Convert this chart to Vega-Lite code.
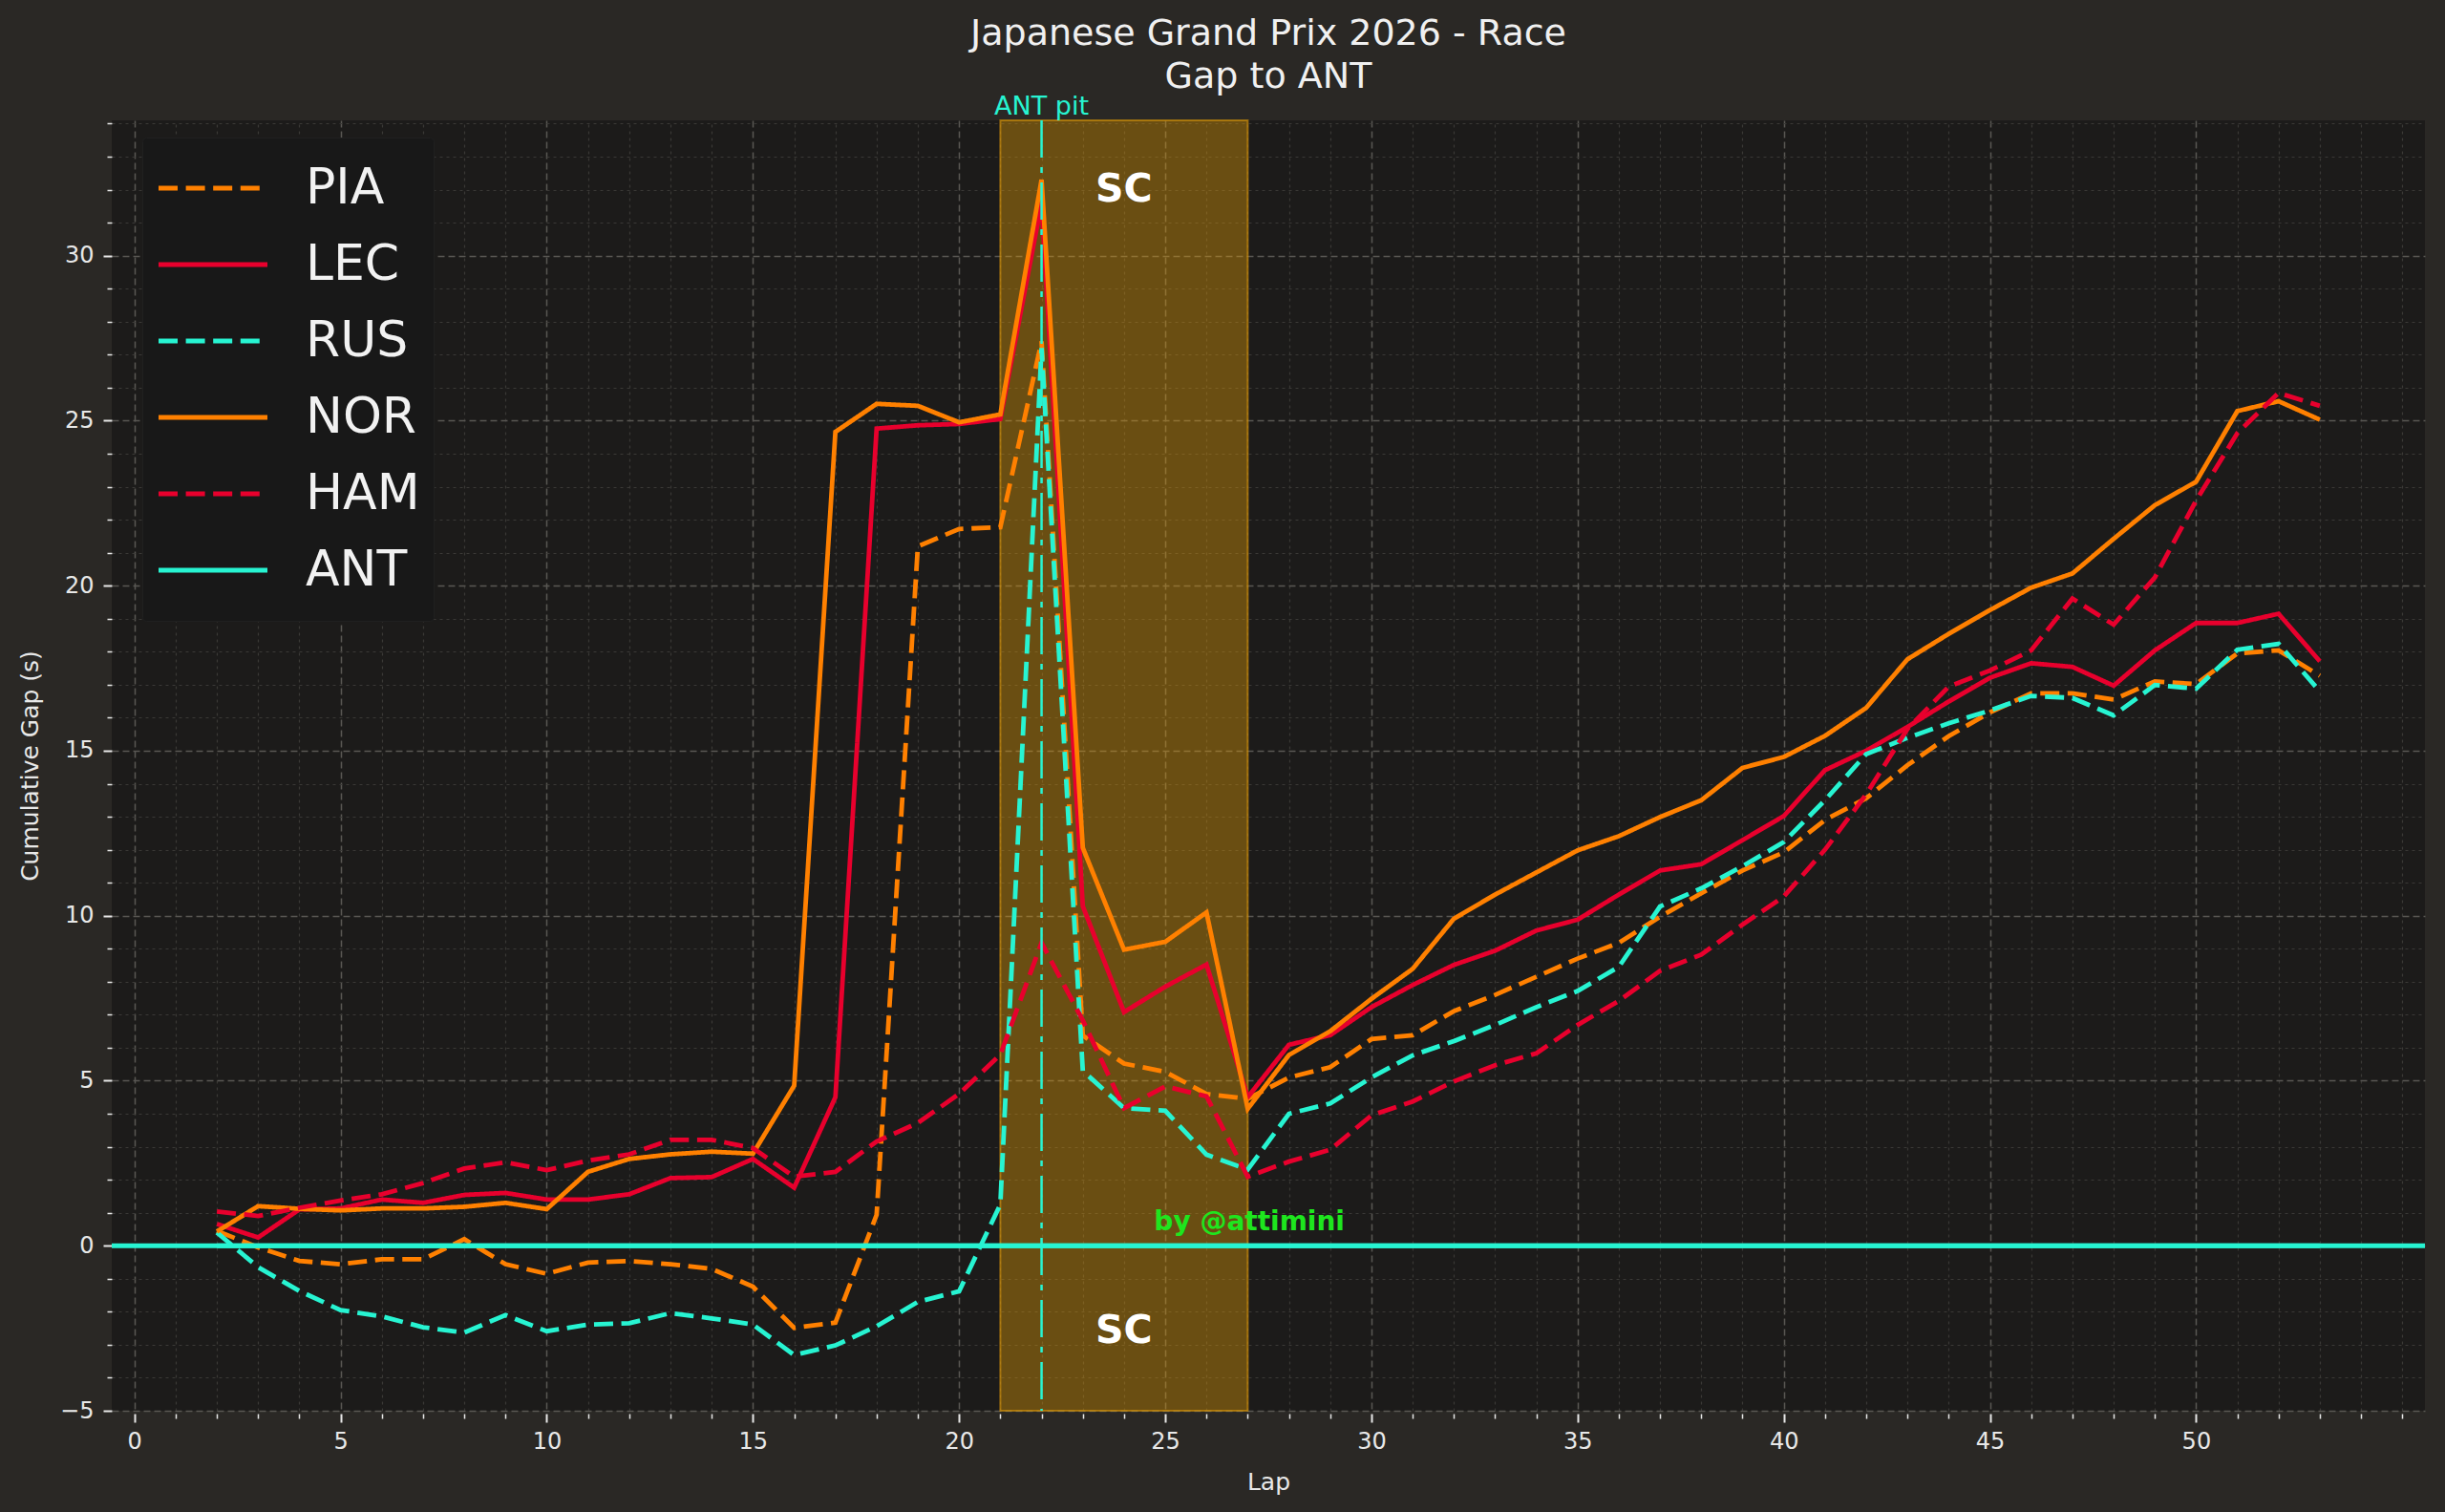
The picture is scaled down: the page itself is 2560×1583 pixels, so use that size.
{
  "$schema": "https://vega.github.io/schema/vega-lite/v6.json",
  "width": 2422,
  "height": 1351,
  "autosize": {"type": "none"},
  "padding": {"left": 117, "top": 126, "right": 21, "bottom": 106},
  "background": "#2a2825",
  "title": {
    "text": ["Japanese Grand Prix 2026 - Race", "Gap to ANT"],
    "fontSize": 38,
    "lineHeight": 45,
    "font": "DejaVu Sans",
    "fontWeight": "normal",
    "color": "#f0f0f0",
    "anchor": "middle",
    "offset": -2
  },
  "datasets": {
    "gaps": [
      {"lap": 2, "PIA": 0.45, "LEC": 0.66, "RUS": 0.40, "NOR": 0.43, "HAM": 1.04, "ANT": 0},
      {"lap": 3, "PIA": -0.05, "LEC": 0.25, "RUS": -0.65, "NOR": 1.20, "HAM": 0.90, "ANT": 0},
      {"lap": 4, "PIA": -0.46, "LEC": 1.10, "RUS": -1.37, "NOR": 1.12, "HAM": 1.15, "ANT": 0},
      {"lap": 5, "PIA": -0.56, "LEC": 1.13, "RUS": -1.95, "NOR": 1.07, "HAM": 1.37, "ANT": 0},
      {"lap": 6, "PIA": -0.41, "LEC": 1.40, "RUS": -2.14, "NOR": 1.13, "HAM": 1.56, "ANT": 0},
      {"lap": 7, "PIA": -0.41, "LEC": 1.30, "RUS": -2.47, "NOR": 1.13, "HAM": 1.90, "ANT": 0},
      {"lap": 8, "PIA": 0.20, "LEC": 1.54, "RUS": -2.63, "NOR": 1.18, "HAM": 2.34, "ANT": 0},
      {"lap": 9, "PIA": -0.56, "LEC": 1.60, "RUS": -2.10, "NOR": 1.30, "HAM": 2.53, "ANT": 0},
      {"lap": 10, "PIA": -0.85, "LEC": 1.40, "RUS": -2.59, "NOR": 1.11, "HAM": 2.29, "ANT": 0},
      {"lap": 11, "PIA": -0.51, "LEC": 1.40, "RUS": -2.39, "NOR": 2.24, "HAM": 2.58, "ANT": 0},
      {"lap": 12, "PIA": -0.46, "LEC": 1.56, "RUS": -2.35, "NOR": 2.63, "HAM": 2.77, "ANT": 0},
      {"lap": 13, "PIA": -0.56, "LEC": 2.05, "RUS": -2.04, "NOR": 2.77, "HAM": 3.21, "ANT": 0},
      {"lap": 14, "PIA": -0.70, "LEC": 2.08, "RUS": -2.20, "NOR": 2.85, "HAM": 3.21, "ANT": 0},
      {"lap": 15, "PIA": -1.24, "LEC": 2.63, "RUS": -2.39, "NOR": 2.79, "HAM": 2.96, "ANT": 0},
      {"lap": 16, "PIA": -2.49, "LEC": 1.76, "RUS": -3.31, "NOR": 4.85, "HAM": 2.09, "ANT": 0},
      {"lap": 17, "PIA": -2.33, "LEC": 4.50, "RUS": -3.02, "NOR": 24.66, "HAM": 2.24, "ANT": 0},
      {"lap": 18, "PIA": 0.94, "LEC": 24.76, "RUS": -2.44, "NOR": 25.51, "HAM": 3.16, "ANT": 0},
      {"lap": 19, "PIA": 21.19, "LEC": 24.86, "RUS": -1.70, "NOR": 25.45, "HAM": 3.72, "ANT": 0},
      {"lap": 20, "PIA": 21.72, "LEC": 24.90, "RUS": -1.38, "NOR": 24.95, "HAM": 4.60, "ANT": 0},
      {"lap": 21, "PIA": 21.77, "LEC": 25.05, "RUS": 1.25, "NOR": 25.19, "HAM": 5.79, "ANT": 0},
      {"lap": 22, "PIA": 27.40, "LEC": 31.60, "RUS": 27.20, "NOR": 32.30, "HAM": 9.18, "ANT": 0},
      {"lap": 23, "PIA": 6.37, "LEC": 10.29, "RUS": 5.30, "NOR": 12.06, "HAM": 6.83, "ANT": 0},
      {"lap": 24, "PIA": 5.52, "LEC": 7.08, "RUS": 4.17, "NOR": 8.97, "HAM": 4.17, "ANT": 0},
      {"lap": 25, "PIA": 5.27, "LEC": 7.85, "RUS": 4.09, "NOR": 9.21, "HAM": 4.83, "ANT": 0},
      {"lap": 26, "PIA": 4.60, "LEC": 8.52, "RUS": 2.76, "NOR": 10.10, "HAM": 4.53, "ANT": 0},
      {"lap": 27, "PIA": 4.45, "LEC": 4.50, "RUS": 2.31, "NOR": 4.15, "HAM": 2.09, "ANT": 0},
      {"lap": 28, "PIA": 5.10, "LEC": 6.09, "RUS": 4.00, "NOR": 5.78, "HAM": 2.55, "ANT": 0},
      {"lap": 29, "PIA": 5.41, "LEC": 6.38, "RUS": 4.31, "NOR": 6.50, "HAM": 2.91, "ANT": 0},
      {"lap": 30, "PIA": 6.26, "LEC": 7.23, "RUS": 5.10, "NOR": 7.48, "HAM": 3.95, "ANT": 0},
      {"lap": 31, "PIA": 6.38, "LEC": 7.90, "RUS": 5.77, "NOR": 8.39, "HAM": 4.37, "ANT": 0},
      {"lap": 32, "PIA": 7.11, "LEC": 8.51, "RUS": 6.20, "NOR": 9.91, "HAM": 4.98, "ANT": 0},
      {"lap": 33, "PIA": 7.60, "LEC": 8.94, "RUS": 6.69, "NOR": 10.64, "HAM": 5.47, "ANT": 0},
      {"lap": 34, "PIA": 8.15, "LEC": 9.55, "RUS": 7.23, "NOR": 11.31, "HAM": 5.83, "ANT": 0},
      {"lap": 35, "PIA": 8.70, "LEC": 9.88, "RUS": 7.72, "NOR": 11.98, "HAM": 6.69, "ANT": 0},
      {"lap": 36, "PIA": 9.18, "LEC": 10.64, "RUS": 8.45, "NOR": 12.41, "HAM": 7.42, "ANT": 0},
      {"lap": 37, "PIA": 9.97, "LEC": 11.37, "RUS": 10.28, "NOR": 12.99, "HAM": 8.33, "ANT": 0},
      {"lap": 38, "PIA": 10.68, "LEC": 11.56, "RUS": 10.83, "NOR": 13.50, "HAM": 8.82, "ANT": 0},
      {"lap": 39, "PIA": 11.37, "LEC": 12.29, "RUS": 11.50, "NOR": 14.48, "HAM": 9.73, "ANT": 0},
      {"lap": 40, "PIA": 11.92, "LEC": 13.02, "RUS": 12.23, "NOR": 14.81, "HAM": 10.58, "ANT": 0},
      {"lap": 41, "PIA": 12.90, "LEC": 14.41, "RUS": 13.50, "NOR": 15.45, "HAM": 12.00, "ANT": 0},
      {"lap": 42, "PIA": 13.56, "LEC": 15.00, "RUS": 14.90, "NOR": 16.30, "HAM": 13.68, "ANT": 0},
      {"lap": 43, "PIA": 14.56, "LEC": 15.72, "RUS": 15.39, "NOR": 17.77, "HAM": 15.66, "ANT": 0},
      {"lap": 44, "PIA": 15.44, "LEC": 16.49, "RUS": 15.83, "NOR": 18.54, "HAM": 16.94, "ANT": 0},
      {"lap": 45, "PIA": 16.16, "LEC": 17.21, "RUS": 16.22, "NOR": 19.26, "HAM": 17.43, "ANT": 0},
      {"lap": 46, "PIA": 16.74, "LEC": 17.65, "RUS": 16.66, "NOR": 19.94, "HAM": 18.04, "ANT": 0},
      {"lap": 47, "PIA": 16.74, "LEC": 17.54, "RUS": 16.60, "NOR": 20.37, "HAM": 19.61, "ANT": 0},
      {"lap": 48, "PIA": 16.55, "LEC": 16.97, "RUS": 16.07, "NOR": 21.42, "HAM": 18.82, "ANT": 0},
      {"lap": 49, "PIA": 17.10, "LEC": 18.04, "RUS": 16.99, "NOR": 22.44, "HAM": 20.25, "ANT": 0},
      {"lap": 50, "PIA": 17.02, "LEC": 18.87, "RUS": 16.88, "NOR": 23.15, "HAM": 22.58, "ANT": 0},
      {"lap": 51, "PIA": 17.95, "LEC": 18.87, "RUS": 18.06, "NOR": 25.29, "HAM": 24.62, "ANT": 0},
      {"lap": 52, "PIA": 18.04, "LEC": 19.15, "RUS": 18.24, "NOR": 25.59, "HAM": 25.84, "ANT": 0},
      {"lap": 53, "PIA": 17.27, "LEC": 17.71, "RUS": 16.80, "NOR": 25.03, "HAM": 25.45, "ANT": 0}
    ],
    "safety_car": [{"start": 21, "end": 27}],
    "sc_labels": [
      {"lap": 24, "gap": 32.0, "label": "SC"},
      {"lap": 24, "gap": -2.6, "label": "SC"}
    ],
    "pit": [{"lap": 22, "gap": 34.1, "label": "ANT pit"}],
    "credit": [{"lap": 27.04, "gap": 0.69, "label": "by @attimini"}],
    "reference": [{"driver": "ANT", "gap": 0}]
  },
  "layer": [
    {
      "data": {"name": "safety_car"},
      "mark": {
        "type": "rect",
        "fill": "#E09A08",
        "fillOpacity": 0.4,
        "stroke": "#E09A08",
        "strokeOpacity": 0.6,
        "strokeWidth": 2
      },
      "encoding": {
        "x": {
          "field": "start",
          "type": "quantitative",
          "scale": {"domain": [-0.55, 55.55], "nice": false, "zero": false},
          "axis": {
            "orient": "bottom",
            "offset": 3,
            "values": [1, 2, 3, 4, 6, 7, 8, 9, 11, 12, 13, 14, 16, 17, 18, 19, 21, 22, 23, 24, 26, 27, 28, 29, 31, 32, 33, 34, 36, 37, 38, 39, 41, 42, 43, 44, 46, 47, 48, 49, 51, 52, 53, 54, 55],
            "labels": false,
            "title": null,
            "tickSize": 5,
            "tickWidth": 1.5,
            "grid": true,
            "gridColor": "#3a3936",
            "gridDash": [3, 4],
            "gridWidth": 1.2
          }
        },
        "x2": {"field": "end"}
      }
    },
    {
      "data": {"name": "gaps"},
      "transform": [
        {"fold": ["PIA", "LEC", "RUS", "NOR", "HAM", "ANT"], "as": ["driver", "gap"]}
      ],
      "mark": {"type": "line", "strokeWidth": 4.8},
      "encoding": {
        "x": {
          "field": "lap",
          "type": "quantitative",
          "scale": {"domain": [-0.55, 55.55], "nice": false, "zero": false},
          "axis": {
            "orient": "bottom",
            "offset": 3,
            "values": [0, 5, 10, 15, 20, 25, 30, 35, 40, 45, 50],
            "format": "d",
            "title": "Lap",
            "tickSize": 9,
            "tickWidth": 2,
            "labelPadding": 8,
            "titlePadding": 18,
            "grid": true,
            "gridColor": "#595753",
            "gridDash": [7, 4],
            "gridWidth": 1.5
          }
        },
        "y": {
          "field": "gap",
          "type": "quantitative",
          "scale": {"domain": [-5, 34.1], "nice": false, "zero": false},
          "axis": {
            "orient": "left",
            "values": [-5, 0, 5, 10, 15, 20, 25, 30],
            "format": "d",
            "title": "Cumulative Gap (s)",
            "tickSize": 9,
            "tickWidth": 2,
            "labelPadding": 10,
            "titlePadding": 18,
            "grid": true,
            "gridColor": "#595753",
            "gridDash": [7, 4],
            "gridWidth": 1.5
          }
        },
        "color": {
          "field": "driver",
          "type": "nominal",
          "scale": {
            "domain": ["PIA", "LEC", "RUS", "NOR", "HAM", "ANT"],
            "range": ["#FF8000", "#E8002D", "#27F4D2", "#FF8000", "#E8002D", "#27F4D2"]
          },
          "legend": {
            "title": null,
            "orient": "none",
            "legendX": 32,
            "legendY": 18,
            "symbolType": "stroke",
            "symbolSize": 13000,
            "symbolStrokeWidth": 5,
            "clipHeight": 78,
            "labelFontSize": 52,
            "labelOffset": 37,
            "labelColor": "#f2f2f2",
            "labelFont": "DejaVu Sans",
            "padding": 14,
            "fillColor": "#181818",
            "strokeColor": "#202020",
            "cornerRadius": 4
          }
        },
        "strokeDash": {
          "field": "driver",
          "type": "nominal",
          "scale": {
            "domain": ["PIA", "LEC", "RUS", "NOR", "HAM", "ANT"],
            "range": [[20, 8.6], [1, 0], [20, 8.6], [1, 0], [20, 8.6], [1, 0]]
          },
          "legend": {
            "title": null,
            "orient": "none",
            "legendX": 32,
            "legendY": 18,
            "symbolType": "stroke",
            "symbolSize": 13000,
            "symbolStrokeWidth": 5,
            "clipHeight": 78,
            "labelFontSize": 52,
            "labelOffset": 37,
            "labelColor": "#f2f2f2",
            "labelFont": "DejaVu Sans",
            "padding": 14,
            "fillColor": "#181818",
            "strokeColor": "#202020",
            "cornerRadius": 4
          }
        }
      }
    },
    {
      "data": {"name": "reference"},
      "mark": {"type": "rule", "color": "#27F4D2", "strokeWidth": 5},
      "encoding": {
        "y": {
          "field": "gap",
          "type": "quantitative",
          "scale": {"domain": [-5, 34.1], "nice": false, "zero": false},
          "axis": {
            "orient": "left",
            "values": [-4, -3, -2, -1, 1, 2, 3, 4, 6, 7, 8, 9, 11, 12, 13, 14, 16, 17, 18, 19, 21, 22, 23, 24, 26, 27, 28, 29, 31, 32, 33, 34],
            "labels": false,
            "title": null,
            "tickSize": 5,
            "tickWidth": 1.5,
            "grid": true,
            "gridColor": "#3a3936",
            "gridDash": [3, 4],
            "gridWidth": 1.2
          }
        }
      }
    },
    {
      "data": {"name": "pit"},
      "mark": {"type": "rule", "color": "#27F4D2", "strokeWidth": 2.5, "strokeDash": [39, 10, 6, 10]},
      "encoding": {
        "x": {"field": "lap", "type": "quantitative", "axis": null}
      }
    },
    {
      "data": {"name": "pit"},
      "mark": {
        "type": "text",
        "font": "DejaVu Sans",
        "fontSize": 27,
        "color": "#27F4D2",
        "align": "center",
        "baseline": "alphabetic",
        "dy": -6
      },
      "encoding": {
        "x": {"field": "lap", "type": "quantitative", "axis": null},
        "y": {"field": "gap", "type": "quantitative", "axis": null},
        "text": {"field": "label"}
      }
    },
    {
      "data": {"name": "sc_labels"},
      "mark": {
        "type": "text",
        "font": "DejaVu Sans",
        "fontSize": 41,
        "fontWeight": "bold",
        "color": "#ffffff",
        "align": "center",
        "baseline": "middle"
      },
      "encoding": {
        "x": {"field": "lap", "type": "quantitative", "axis": null},
        "y": {"field": "gap", "type": "quantitative", "axis": null},
        "text": {"field": "label"}
      }
    },
    {
      "data": {"name": "credit"},
      "mark": {
        "type": "text",
        "font": "DejaVu Sans",
        "fontSize": 28,
        "fontWeight": "bold",
        "color": "#1EE61E",
        "align": "center",
        "baseline": "middle"
      },
      "encoding": {
        "x": {"field": "lap", "type": "quantitative", "axis": null},
        "y": {"field": "gap", "type": "quantitative", "axis": null},
        "text": {"field": "label"}
      }
    }
  ],
  "resolve": {"axis": {"x": "independent", "y": "independent"}},
  "config": {
    "view": {"fill": "#1c1b1a", "stroke": null},
    "font": "DejaVu Sans",
    "axis": {
      "domain": false,
      "labelColor": "#e8e8e8",
      "labelFont": "DejaVu Sans",
      "labelFontSize": 24,
      "tickColor": "#e8e8e8",
      "titleColor": "#e8e8e8",
      "titleFont": "DejaVu Sans",
      "titleFontSize": 25,
      "titleFontWeight": "normal"
    }
  }
}
